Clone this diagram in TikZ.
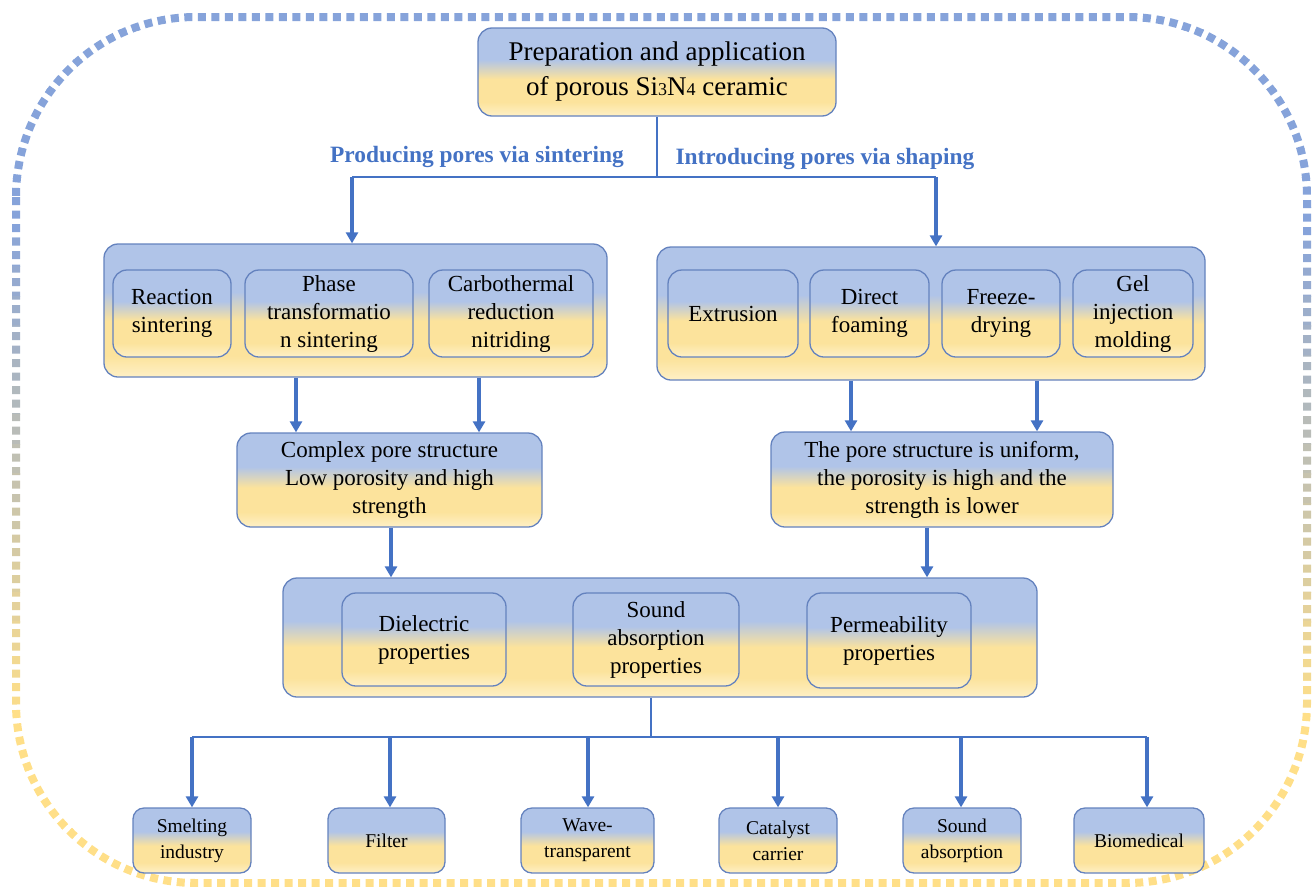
\documentclass[tikz,border=0pt]{standalone}
\usepackage{fontspec}
\setmainfont{Liberation Serif}
\usetikzlibrary{arrows.meta}
\definecolor{bxblue}{HTML}{B0C4E8}
\definecolor{bxyel}{HTML}{FCE39C}
\definecolor{bxyell}{HTML}{FEF0C6}
\definecolor{bxedge}{HTML}{6482BE}
\definecolor{arrblue}{HTML}{4472C4}
\definecolor{bdblue}{HTML}{86A3DA}
\definecolor{bdyel}{HTML}{FFDF88}
\pgfdeclareverticalshading{boxshade}{100bp}{color(0bp)=(bxyell); color(25bp)=(bxyell); color(33bp)=(bxyel); color(46bp)=(bxyel); color(57bp)=(bxblue); color(100bp)=(bxblue)}
\tikzset{
  box/.style={draw=bxedge, line width=1.3pt, rounded corners=14pt, shading=boxshade, align=center, inner sep=0pt, font=\fontsize{23}{28}\selectfont},
  small/.style={box, rounded corners=11pt, font=\fontsize{19.5}{26}\selectfont},
  tl/.style={draw=arrblue, line width=1.4pt},
  arr/.style={draw=arrblue, line width=3.2pt, -{Triangle[length=11pt,width=12pt]}},
  lab/.style={text=arrblue, font=\fontsize{23.4}{26}\selectfont\bfseries},
  border/.style={line width=8pt, dash pattern=on 8pt off 5.5pt, rounded corners=180pt}
}
\newcommand{\sm}[1]{{\fontsize{18}{18}\selectfont #1}}
\begin{document}
\begin{tikzpicture}[x=1pt,y=-1pt]
\useasboundingbox (0,0) rectangle (1313,886);
% outer border, colour changing from blue (top) to yellow (bottom)
\foreach \i in {0,...,29}{
  \pgfmathsetmacro{\ya}{\i*29.6}
  \pgfmathsetmacro{\yb}{(\i+1)*29.6+0.4}
  \pgfmathsetmacro{\pp}{max(0,min(100,((\i+0.5)*29.6-220)/5.0))}
  \begin{scope}
    \clip (0,\ya) rectangle (1313,\yb);
    \draw[border, draw=bdyel!\pp!bdblue] (16,17) rectangle (1307,883);
  \end{scope}
}

% title
\node[box, minimum width=358pt, minimum height=88pt, font=\fontsize{27}{35}\selectfont] (T) at (657,72) {Preparation and application\\of porous Si\sm{3}N\sm{4} ceramic};

% left group
\node[box, minimum width=503pt, minimum height=133pt] (LG) at (355.5,310.5) {};
\node[box, minimum width=118pt, minimum height=87pt] (R1) at (172,313.5) {Reaction\\sintering};
\node[box, minimum width=168pt, minimum height=87pt] (R2) at (329,313.5) {Phase\\transformatio\\n sintering};
\node[box, minimum width=164pt, minimum height=87pt] (R3) at (511,313.5) {Carbothermal\\reduction\\nitriding};

% right group
\node[box, minimum width=548pt, minimum height=133pt] (RG) at (931,313.5) {};
\node[box, minimum width=130pt, minimum height=87pt] (S1) at (733,313.5) {Extrusion};
\node[box, minimum width=119pt, minimum height=87pt] (S2) at (869.5,313.5) {Direct\\foaming};
\node[box, minimum width=118pt, minimum height=87pt] (S3) at (1001,313.5) {Freeze-\\drying};
\node[box, minimum width=120pt, minimum height=87pt] (S4) at (1133,313.5) {Gel\\injection\\molding};

% middle boxes
\node[box, minimum width=305pt, minimum height=94pt] (ML) at (389.5,480) {Complex pore structure\\Low porosity and high\\strength};
\node[box, minimum width=342pt, minimum height=95pt] (MR) at (942,479.5) {The pore structure is uniform,\\the porosity is high and the\\strength is lower};

% properties
\node[box, minimum width=754pt, minimum height=119pt] (P) at (660,637.5) {};
\node[box, minimum width=164pt, minimum height=93pt] (P1) at (424,639.5) {Dielectric\\properties};
\node[box, minimum width=166pt, minimum height=93pt] (P2) at (656,639.5) {Sound\\absorption\\properties};
\node[box, minimum width=164pt, minimum height=95pt] (P3) at (889,640.5) {Permeability\\properties};

% applications
\node[small, minimum width=118pt, minimum height=65pt] (A1) at (192,840.5) {Smelting\\industry};
\node[small, minimum width=117pt, minimum height=65pt] (A2) at (386.5,840.5) {Filter};
\node[small, minimum width=133pt, minimum height=65pt] (A3) at (587.5,840.5) {Wave-\\transparent};
\node[small, minimum width=118pt, minimum height=65pt] (A4) at (778,840.5) {Catalyst\\carrier};
\node[small, minimum width=118pt, minimum height=65pt] (A5) at (962,840.5) {Sound\\absorption};
\node[small, minimum width=130pt, minimum height=65pt] (A6) at (1139,840.5) {Biomedical};

% labels
\node[lab] (L1) at (477,157) {Producing pores via sintering};
\node[lab] (L2) at (825,159) {Introducing pores via shaping};

% top connectors
\coordinate (JT) at (657,177);
\coordinate (JL) at (352,177);
\coordinate (JR) at (936,177);
\draw[tl] (T.south) -- (JT);
\draw[tl] (JL) -- (JR);
\draw[arr] (JL) -- (JL |- LG.north);
\draw[arr] (JR) -- (JR |- RG.north);

% group to middle
\draw[arr] (296,0 |- LG.south) -- (296,0 |- ML.north);
\draw[arr] (479,0 |- LG.south) -- (479,0 |- ML.north);
\draw[arr] (851,0 |- RG.south) -- (851,0 |- MR.north);
\draw[arr] (1037,0 |- RG.south) -- (1037,0 |- MR.north);

% middle to properties
\draw[arr] (391,0 |- ML.south) -- (391,0 |- P.north);
\draw[arr] (927,0 |- MR.south) -- (927,0 |- P.north);

% properties to applications
\coordinate (JB) at (651,737);
\coordinate (B1) at (192,737);
\coordinate (B6) at (1147,737);
\draw[tl] (651,0 |- P.south) -- (JB);
\draw[tl] (B1) -- (B6);
\draw[arr] (B1) -- (B1 |- A1.north);
\draw[arr] (390,737) -- (390,0 |- A2.north);
\draw[arr] (588,737) -- (588,0 |- A3.north);
\draw[arr] (778,737) -- (778,0 |- A4.north);
\draw[arr] (961,737) -- (961,0 |- A5.north);
\draw[arr] (B6) -- (B6 |- A6.north);
\end{tikzpicture}
\end{document}
